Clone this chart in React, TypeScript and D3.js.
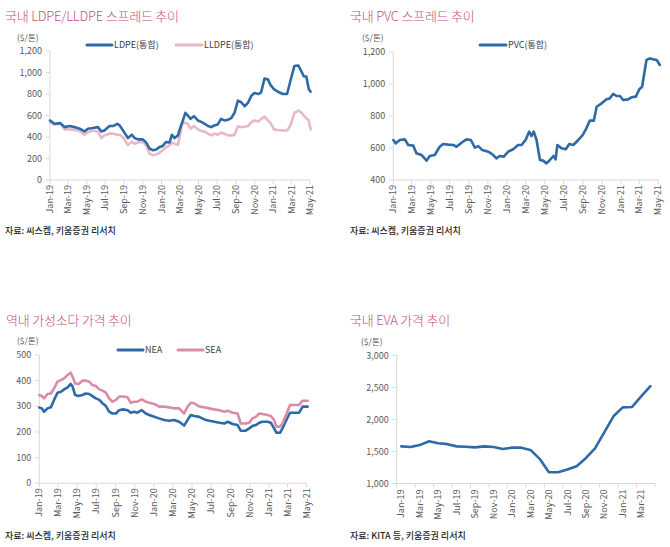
import React from "react";
import * as d3 from "d3";

const FONT = "'Noto Sans CJK KR', 'Noto Sans', sans-serif";
const BLUE = "#2e6aa8";
const PINK_LIGHT = "#e8b8c7";
const PINK = "#d98ca8";
const TITLE_COLOR = "#c2507f";
const AXIS_COLOR = "#d9d9d9";
const TEXT_COLOR = "#595959";

// shared x tick labels (every 2 months)
const tickLabels = ["Jan-19","Mar-19","May-19","Jul-19","Sep-19","Nov-19","Jan-20","Mar-20","May-20","Jul-20","Sep-20","Nov-20","Jan-21","Mar-21","May-21"];
const evaTickLabels = ["Jan-19","Mar-19","May-19","Jul-19","Sep-19","Nov-19","Jan-20","Mar-20","May-20","Jul-20","Sep-20","Nov-20","Jan-21","Mar-21"];

// ---- Chart 1: LDPE / LLDPE spread ----
const ldpeDates = ["2019-01-01","2019-01-16","2019-02-04","2019-02-18","2019-03-06","2019-03-22","2019-04-08","2019-04-24","2019-05-05","2019-05-21",
"2019-06-07","2019-06-18","2019-06-28","2019-07-15","2019-07-26","2019-08-09","2019-08-17","2019-08-28","2019-09-13","2019-09-26",
"2019-10-05","2019-10-16","2019-11-01","2019-11-12","2019-11-23","2019-12-04","2019-12-15","2019-12-26",
"2020-01-05","2020-01-16","2020-01-27","2020-02-04","2020-02-13","2020-02-24","2020-03-03","2020-03-11","2020-03-19","2020-03-27",
"2020-04-05","2020-04-16","2020-04-29","2020-05-12","2020-05-21","2020-06-01","2020-06-12","2020-06-22","2020-07-03","2020-07-14",
"2020-07-25","2020-08-05","2020-08-16","2020-08-27","2020-09-07","2020-09-18","2020-09-29","2020-10-10","2020-10-21","2020-10-31",
"2020-11-14","2020-11-22","2020-12-03","2020-12-14","2020-12-23",
"2021-01-03","2021-01-16","2021-02-01","2021-02-15","2021-02-26","2021-03-11","2021-03-24","2021-04-02","2021-04-11","2021-04-19",
"2021-04-27","2021-05-03"];
const ldpeValues = [554,523,529,492,502,492,477,452,477,483,
492,452,461,502,502,523,508,461,390,421,
390,378,378,348,292,277,283,308,
317,354,348,421,390,415,492,554,625,600,
569,594,554,538,523,502,492,508,517,569,
554,560,575,625,738,723,686,717,784,809,
800,815,944,938,883,
846,821,800,800,923,1061,1065,1015,963,963,
846,821];
const lldpeValues = [538,514,523,471,471,465,455,421,445,461,
452,390,415,431,431,421,421,395,325,355,
338,350,355,320,246,231,237,255,
277,305,323,348,338,329,440,544,530,523,
477,502,471,455,452,430,415,431,421,440,
430,415,415,420,500,492,495,502,538,554,
544,569,590,554,530,
471,465,461,461,508,625,646,630,600,575,
554,471];

// ---- Chart 2: PVC spread ----
const pvcDates = ["2019-01-01","2019-01-09","2019-01-22","2019-02-07","2019-02-18","2019-03-06","2019-03-16","2019-04-02","2019-04-18","2019-04-28",
"2019-05-14","2019-05-30","2019-06-10","2019-06-26","2019-07-12","2019-07-23","2019-08-08","2019-08-24","2019-09-07","2019-09-20",
"2019-10-01","2019-10-14","2019-11-02","2019-11-18","2019-11-28","2019-12-09","2019-12-22","2020-01-05","2020-01-21","2020-02-06",
"2020-02-17","2020-03-02","2020-03-12","2020-03-20","2020-03-27","2020-04-05","2020-04-16","2020-04-26","2020-05-07","2020-05-18",
"2020-05-29","2020-06-05","2020-06-11","2020-06-24","2020-07-08","2020-07-19","2020-08-01","2020-08-17","2020-08-31","2020-09-12",
"2020-09-23","2020-10-06","2020-10-15","2020-10-31","2020-11-16","2020-11-26","2020-12-07","2020-12-18","2020-12-29","2021-01-08",
"2021-01-24","2021-02-04","2021-02-18","2021-03-01","2021-03-10","2021-03-17","2021-03-24","2021-04-04","2021-04-15","2021-04-26",
"2021-05-06"];
const pvcValues = [650,629,650,654,619,615,567,556,521,550,
556,608,625,621,619,608,633,654,650,602,
612,587,577,556,535,550,546,577,592,619,
619,654,702,675,702,650,525,521,504,525,
550,529,619,598,592,625,619,650,681,723,
771,771,858,879,904,910,938,925,925,900,
904,917,921,967,983,1067,1150,1160,1154,1150,
1119];

// ---- Chart 3: caustic soda ----
const sodaDates = ["2019-01-01","2019-01-09","2019-01-16","2019-01-27","2019-02-07","2019-02-17","2019-02-28","2019-03-11","2019-03-21","2019-04-01",
"2019-04-11","2019-04-17","2019-04-25","2019-05-06","2019-05-18","2019-05-29","2019-06-09","2019-06-19","2019-06-30","2019-07-11",
"2019-07-21","2019-08-01","2019-08-11","2019-08-22","2019-09-02","2019-09-12","2019-09-25","2019-10-09","2019-10-19","2019-10-30",
"2019-11-09","2019-11-23","2019-12-06","2019-12-17","2020-01-02","2020-01-17","2020-02-02","2020-02-18","2020-03-05","2020-03-21",
"2020-04-06","2020-04-17","2020-04-27","2020-05-08","2020-05-24","2020-06-09","2020-06-25","2020-07-11","2020-07-27","2020-08-12",
"2020-08-23","2020-09-07","2020-09-23","2020-10-03","2020-10-19","2020-10-30","2020-11-09","2020-11-20","2020-12-01","2020-12-11",
"2020-12-27","2021-01-07","2021-01-17","2021-01-25","2021-02-05","2021-02-13","2021-02-26","2021-03-09","2021-03-23","2021-04-07",
"2021-04-18","2021-05-04"];
const neaValues = [295,292,279,292,296,325,353,357,366,374,
387,377,344,340,344,350,348,340,331,325,
312,301,279,272,272,285,288,285,275,279,
275,285,272,266,259,253,247,244,247,240,
225,247,266,262,259,249,244,240,236,233,
240,231,227,205,205,214,223,227,236,240,
240,236,214,197,197,214,249,275,275,275,
299,299];
const seaValues = [344,340,331,348,350,370,396,402,409,422,
431,415,389,387,400,400,396,383,379,366,
361,353,331,318,325,338,338,335,314,318,
318,327,318,314,309,299,299,296,292,292,
272,299,314,312,299,296,292,288,285,279,
283,275,272,233,233,236,253,259,272,270,
266,262,247,221,221,233,272,305,305,305,
322,322];

// ---- Chart 4: EVA ----
const evaMonths = ["2019-01","2019-02","2019-03","2019-04","2019-05","2019-06","2019-07","2019-08","2019-09","2019-10","2019-11","2019-12",
"2020-01","2020-02","2020-03","2020-04","2020-05","2020-06","2020-07","2020-08","2020-09","2020-10","2020-11","2020-12",
"2021-01","2021-02","2021-03","2021-04"];
const evaValues = [1580,1570,1600,1660,1630,1615,1580,1575,1565,1580,1570,1540,
1560,1560,1525,1385,1175,1175,1220,1270,1395,1550,1800,2050,
2190,2195,2360,2520];

const parseDate = d3.timeParse("%Y-%m-%d");
const parseTick = d3.timeParse("%b-%y");
const fmtComma = d3.format(",");

type SeriesDef = { dates: string[]; values: number[]; color: string };
type LegendDef = { name: string; color: string; x1: number; x2: number };

function YAxis({ scale, ticks, x, fmt }: { scale: d3.ScaleLinear<number, number>; ticks: number[]; x: number; fmt: (v: number) => string }) {
  const [r0, r1] = scale.range();
  return (
    <g>
      <line x1={x} x2={x} y1={r0} y2={r1} stroke={AXIS_COLOR} strokeWidth={1} />
      {ticks.map((t) => (
        <g key={t}>
          <line x1={x - 4} x2={x} y1={scale(t)} y2={scale(t)} stroke={AXIS_COLOR} strokeWidth={1} />
          <text x={x - 8} y={scale(t)} dy="0.35em" textAnchor="end" fontSize={9} fill={TEXT_COLOR} fontFamily={FONT}>
            {fmt(t)}
          </text>
        </g>
      ))}
    </g>
  );
}

function Header({ x, title, unitX, unitY, titleY }: { x: number; title: string; unitX: number; unitY: number; titleY: number }) {
  return (
    <g fontFamily={FONT}>
      <text x={x} y={titleY} fontSize={13} fontWeight={300} letterSpacing={-0.2} fill={TITLE_COLOR}>{title}</text>
      <text x={unitX} y={unitY} fontSize={8.5} fill={TEXT_COLOR}>($/톤)</text>
    </g>
  );
}

function Legend({ items, y }: { items: LegendDef[]; y: number }) {
  return (
    <g fontFamily={FONT}>
      {items.map((it) => (
        <g key={it.name}>
          <line x1={it.x1} x2={it.x2} y1={y} y2={y} stroke={it.color} strokeWidth={3} strokeLinecap="round" />
          <text x={it.x2 + 2} y={y} dy="0.35em" fontSize={9} fill="#404040">{it.name}</text>
        </g>
      ))}
    </g>
  );
}

function TimePanel({
  x0, x1, y0, y1, yDomain, yTicks, series, fmt,
}: {
  x0: number; x1: number; y0: number; y1: number; yDomain: [number, number]; yTicks: number[]; series: SeriesDef[]; fmt: (v: number) => string;
}) {
  const xScale = d3.scaleTime().domain([parseTick("Jan-19") as Date, parseTick("May-21") as Date]).range([x0, x1]);
  const yScale = d3.scaleLinear().domain(yDomain).range([y0, y1]);
  const tickDates = tickLabels.map((l) => parseTick(l) as Date);
  return (
    <g>
      <YAxis scale={yScale} ticks={yTicks} x={x0} fmt={fmt} />
      <line x1={x0} x2={x1} y1={y0} y2={y0} stroke={AXIS_COLOR} strokeWidth={1} />
      {tickDates.map((d, i) => (
        <g key={i}>
          <line x1={xScale(d)} x2={xScale(d)} y1={y0} y2={y0 + 4} stroke={AXIS_COLOR} strokeWidth={1} />
          <text
            transform={`translate(${xScale(d)},${y0 + 5}) rotate(-90)`}
            dy="0.35em" textAnchor="end" fontSize={9} fill={TEXT_COLOR} fontFamily={FONT}
          >
            {tickLabels[i]}
          </text>
        </g>
      ))}
      {series.map((s, si) => {
        const pts = s.dates.map((d, i) => [xScale(parseDate(d) as Date), yScale(s.values[i])] as [number, number]);
        const path = d3.line()(pts) || "";
        return <path key={si} d={path} fill="none" stroke={s.color} strokeWidth={2.6} strokeLinejoin="round" strokeLinecap="round" />;
      })}
    </g>
  );
}

function EvaPanel({ x0, x1, y0, y1 }: { x0: number; x1: number; y0: number; y1: number }) {
  const xScale = d3.scaleBand<string>().domain(evaMonths).range([x0, x1]);
  const yScale = d3.scaleLinear().domain([1000, 3000]).range([y0, y1]);
  const bw = xScale.bandwidth();
  const boundaries = evaMonths.filter((_, i) => i % 2 === 0).map((m) => xScale(m) as number).concat([x1]);
  const labelMonths = evaMonths.filter((_, i) => i % 2 === 0);
  const pts = evaMonths.map((m, i) => [(xScale(m) as number) + bw / 2, yScale(evaValues[i])] as [number, number]);
  return (
    <g>
      <YAxis scale={yScale} ticks={[1000, 1500, 2000, 2500, 3000]} x={x0} fmt={fmtComma} />
      <line x1={x0} x2={x1} y1={y0} y2={y0} stroke={AXIS_COLOR} strokeWidth={1} />
      {boundaries.map((bx, i) => (
        <line key={i} x1={bx} x2={bx} y1={y0} y2={y0 + 4} stroke={AXIS_COLOR} strokeWidth={1} />
      ))}
      {labelMonths.map((m, i) => (
        <text
          key={m}
          transform={`translate(${(xScale(m) as number) + bw / 2},${y0 + 6}) rotate(-90)`}
          dy="0.35em" textAnchor="end" fontSize={9} fill={TEXT_COLOR} fontFamily={FONT}
        >
          {evaTickLabels[i]}
        </text>
      ))}
      <path d={d3.line()(pts) || ""} fill="none" stroke={BLUE} strokeWidth={2.6} strokeLinejoin="round" strokeLinecap="round" />
    </g>
  );
}

function Source({ x, y, text }: { x: number; y: number; text: string }) {
  return (
    <text x={x} y={y} fontSize={9} fill="#262626" fontFamily={FONT} fontWeight={500}>{text}</text>
  );
}

export default function App() {
  return (
    <svg width={670} height={547} style={{ position: "absolute", left: 0, top: 0, background: "#fff" }}>
      <rect width={670} height={547} fill="#fff" />
      {/* Chart 1 */}
      <Header x={5} titleY={21} title="국내 LDPE/LLDPE 스프레드 추이" unitX={17} unitY={41} />
      <Legend y={45} items={[{ name: "LDPE(통합)", color: BLUE, x1: 87, x2: 112 }, { name: "LLDPE(통합)", color: PINK_LIGHT, x1: 176, x2: 202 }]} />
      <TimePanel x0={50} x1={310} y0={180} y1={51} yDomain={[0, 1200]} yTicks={[0, 200, 400, 600, 800, 1000, 1200]} fmt={fmtComma}
        series={[{ dates: ldpeDates, values: lldpeValues, color: PINK_LIGHT }, { dates: ldpeDates, values: ldpeValues, color: BLUE }]} />
      <Source x={5} y={234} text="자료: 씨스켐, 키움증권 리서치" />

      {/* Chart 2 */}
      <Header x={350} titleY={21} title="국내 PVC 스프레드 추이" unitX={362} unitY={41} />
      <Legend y={45} items={[{ name: "PVC(통합)", color: BLUE, x1: 480, x2: 506 }]} />
      <TimePanel x0={393.3} x1={658.3} y0={180} y1={52} yDomain={[400, 1200]} yTicks={[400, 600, 800, 1000, 1200]} fmt={fmtComma}
        series={[{ dates: pvcDates, values: pvcValues, color: BLUE }]} />
      <Source x={350} y={234} text="자료: 씨스켐, 키움증권 리서치" />

      {/* Chart 3 */}
      <Header x={6} titleY={325} title="역내 가성소다 가격 추이" unitX={17} unitY={344} />
      <Legend y={350} items={[{ name: "NEA", color: BLUE, x1: 118, x2: 143 }, { name: "SEA", color: PINK, x1: 178, x2: 203 }]} />
      <TimePanel x0={39.3} x1={306.7} y0={483.3} y1={355} yDomain={[0, 500]} yTicks={[0, 100, 200, 300, 400, 500]} fmt={fmtComma}
        series={[{ dates: sodaDates, values: neaValues, color: BLUE }, { dates: sodaDates, values: seaValues, color: PINK }]} />
      <Source x={5} y={539} text="자료: 씨스켐, 키움증권 리서치" />

      {/* Chart 4 */}
      <Header x={350} titleY={325} title="국내 EVA 가격 추이" unitX={361} unitY={345} />
      <EvaPanel x0={396.7} x1={655} y0={483.5} y1={355.5} />
      <Source x={350} y={539} text="자료: KITA 등, 키움증권 리서치" />
    </svg>
  );
}
